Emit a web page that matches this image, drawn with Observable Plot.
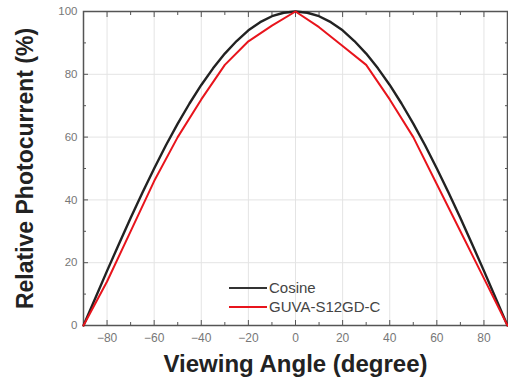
<!DOCTYPE html>
<html>
<head>
<meta charset="utf-8">
<script src="https://cdn.jsdelivr.net/npm/d3@7"></script>
<script src="https://cdn.jsdelivr.net/npm/@observablehq/plot@0.6"></script>
<style>
  html, body { margin: 0; padding: 0; background: #fff; }
  #wrap { position: relative; width: 508px; height: 383px; font-family: Arial, "Liberation Sans", sans-serif; }
  #legend { position: absolute; left: 229px; top: 278px; font-size: 15px; color: #444; line-height: 19px; }
  #legend div { display: flex; align-items: center; }
  #legend span.sw { display: inline-block; width: 38px; height: 0; margin-right: 2px; }
</style>
</head>
<body>
<div id="wrap">
  <div id="chart"></div>
  <div id="legend">
    <div><span class="sw" style="border-top:2.5px solid #333"></span>Cosine</div>
    <div><span class="sw" style="border-top:2.5px solid #e8141c"></span>GUVA-S12GD-C</div>
  </div>
</div>
<script>
const cosAngles = [-90,-85,-80,-75,-70,-65,-60,-55,-50,-45,-40,-35,-30,-25,-20,-15,-10,-5,0,5,10,15,20,25,30,35,40,45,50,55,60,65,70,75,80,85,90];
const cosValues = [0,8.7,17.4,25.9,34.2,42.3,50,57.4,64.3,70.7,76.6,81.9,86.6,90.6,94.0,96.6,98.5,99.6,100,99.6,98.5,96.6,94.0,90.6,86.6,81.9,76.6,70.7,64.3,57.4,50,42.3,34.2,25.9,17.4,8.7,0];
const guvaAngles = [-90,-80,-70,-60,-50,-40,-30,-20,-10,0,10,20,30,40,50,60,70,80,90];
const guvaValues = [0,14,30,46,60,72,83,90.5,95.5,100,95,89,83,72,60,45,30,15,0];
const xMajor = [-80,-60,-40,-20,0,20,40,60,80];
const xMinor = [-90,-70,-50,-30,-10,10,30,50,70,90];
const yMajor = [0,20,40,60,80,100];
const yMinor = [10,30,50,70,90];
const xLabel = "Viewing Angle (degree)";
const yLabel = "Relative Photocurrent (%)";

const cosData = cosAngles.map((a, i) => ({a, v: cosValues[i]}));
const guvaData = guvaAngles.map((a, i) => ({a, v: guvaValues[i]}));

const chart = Plot.plot({
  width: 508,
  height: 383,
  marginLeft: 83,
  marginRight: 1,
  marginTop: 11,
  marginBottom: 58,
  style: {fontFamily: "Arial, 'Liberation Sans', sans-serif", background: "#fff"},
  x: {domain: [-90, 90], label: null},
  y: {domain: [0, 100], label: null},
  marks: [
    Plot.gridX(xMajor, {stroke: "#e4e4e4", strokeOpacity: 1}),
    Plot.gridY([20,40,60,80], {stroke: "#e4e4e4", strokeOpacity: 1}),
    Plot.frame({stroke: "#555", strokeWidth: 1.5}),
    Plot.axisX(xMajor, {anchor: "bottom", text: null, tickSize: -5, stroke: "#555"}),
    Plot.axisX(xMinor, {anchor: "bottom", text: null, tickSize: -3, stroke: "#555"}),
    Plot.axisX(xMajor, {anchor: "top", text: null, tickSize: -5, stroke: "#555"}),
    Plot.axisX(xMinor, {anchor: "top", text: null, tickSize: -3, stroke: "#555"}),
    Plot.axisX(xMajor, {anchor: "bottom", tickSize: 0, tickPadding: 8, fontSize: 12, fill: "#777", label: null}),
    Plot.axisY(yMajor, {anchor: "left", text: null, tickSize: -5, stroke: "#555"}),
    Plot.axisY(yMinor, {anchor: "left", text: null, tickSize: -3, stroke: "#555"}),
    Plot.axisY(yMajor, {anchor: "right", text: null, tickSize: -5, stroke: "#555"}),
    Plot.axisY(yMinor, {anchor: "right", text: null, tickSize: -3, stroke: "#555"}),
    Plot.axisY(yMajor, {anchor: "left", tickSize: 0, tickPadding: 6, fontSize: 11.5, fill: "#777", label: null}),
    Plot.line(cosData, {x: "a", y: "v", stroke: "#222", strokeWidth: 2.4}),
    Plot.line(guvaData, {x: "a", y: "v", stroke: "#e8141c", strokeWidth: 2}),
    Plot.text([xLabel], {frameAnchor: "bottom", dy: 46, fontSize: 24, fontWeight: "bold", fill: "#222"}),
    Plot.text([yLabel], {frameAnchor: "left", textAnchor: "middle", dx: -58, rotate: -90, fontSize: 23, fontWeight: "bold", fill: "#222"})
  ]
});
document.getElementById("chart").appendChild(chart);
</script>
</body>
</html>
